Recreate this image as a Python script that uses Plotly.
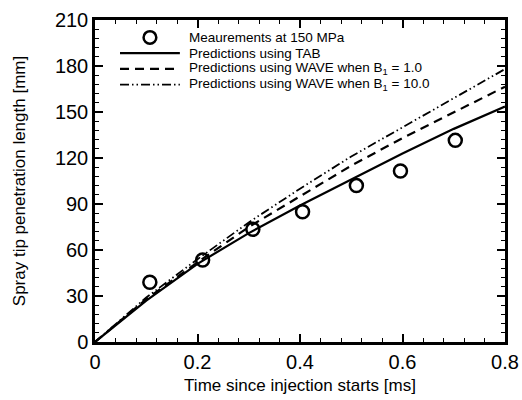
import plotly.graph_objects as go

# Data
meas_t = [0.107, 0.21, 0.308, 0.405, 0.51, 0.596, 0.703]
meas_len = [39, 53.5, 73.5, 85, 102, 111.5, 131.5]

model_t = [0.0, 0.1, 0.2, 0.3, 0.4, 0.5, 0.6, 0.7, 0.8]
tab_len = [0, 27, 51, 71, 89, 106, 123, 139, 153.5]
wave1_len = [0, 28, 52, 75, 95, 115, 133, 150, 166.5]
wave10_len = [0, 29, 54, 78, 100, 121, 140, 159, 178]

x_ticks = [0, 0.2, 0.4, 0.6, 0.8]
x_tick_labels = ["0", "0.2", "0.4", "0.6", "0.8"]
y_ticks = [0, 30, 60, 90, 120, 150, 180, 210]

legend_labels = [
    "Meaurements at 150 MPa",
    "Predictions using TAB",
    "Predictions using WAVE when B<sub>1</sub> = 1.0",
    "Predictions using WAVE when B<sub>1</sub> = 10.0",
]

FONT = "Liberation Sans, Arial, sans-serif"
SOLID = dict(color="black", width=2.2)
DASH = dict(color="black", width=2.2, dash="9px,6px")
DASHDOT = dict(color="black", width=1.8, dash="9px,3px,1.5px,3px,1.5px,3px")

fig = go.Figure()
fig.add_trace(go.Scatter(
    x=meas_t, y=meas_len, mode="markers", name=legend_labels[0],
    marker=dict(symbol="circle-open", size=13, color="black", line=dict(width=2.5, color="black")),
))
fig.add_trace(go.Scatter(x=model_t, y=tab_len, mode="lines", name=legend_labels[1], line=SOLID))
fig.add_trace(go.Scatter(x=model_t, y=wave1_len, mode="lines", name=legend_labels[2], line=DASH))
fig.add_trace(go.Scatter(x=model_t, y=wave10_len, mode="lines", name=legend_labels[3], line=DASHDOT))

# Compact legend drawn in paper coordinates (keys + real text)
row_y = [0.9457, 0.8969, 0.8481, 0.7994]
key_x0, key_x1, text_x = 0.061, 0.207, 0.225
shapes = [
    dict(type="circle", xref="paper", yref="paper",
         x0=(key_x0 + key_x1) / 2 - 0.0155, x1=(key_x0 + key_x1) / 2 + 0.0155,
         y0=row_y[0] - 0.0197, y1=row_y[0] + 0.0197,
         line=dict(color="black", width=2.5)),
]
for yy, st in zip(row_y[1:], [SOLID, DASH, DASHDOT]):
    shapes.append(dict(type="line", xref="paper", yref="paper",
                       x0=key_x0, x1=key_x1, y0=yy, y1=yy, line=st))
annotations = [
    dict(text=lab, xref="paper", yref="paper", x=text_x, y=yy, xanchor="left", yanchor="middle",
         showarrow=False, font=dict(family=FONT, size=13.5, color="black"))
    for lab, yy in zip(legend_labels, row_y)
]

axis_common = dict(
    showgrid=False, zeroline=False, showline=True, linecolor="black", linewidth=2.5,
    mirror="ticks", ticks="inside", ticklen=8, tickwidth=2, tickcolor="black",
    tickfont=dict(family=FONT, size=20, color="black"), automargin=False,
)

fig.update_xaxes(
    range=[0, 0.8], tickvals=x_ticks, ticktext=x_tick_labels,
    minor=dict(dtick=0.04, ticks="inside", ticklen=4, tickwidth=1, tickcolor="black"),
    title=dict(text="Time since injection starts [ms]", font=dict(family=FONT, size=17, color="black"), standoff=8),
    **axis_common,
)
fig.update_yaxes(
    range=[0, 210], tickvals=y_ticks,
    minor=dict(dtick=6, ticks="inside", ticklen=4, tickwidth=1, tickcolor="black"),
    title=dict(text="Spray tip penetration length [mm]", font=dict(family=FONT, size=17, color="black"), standoff=25),
    **axis_common,
)

fig.update_layout(
    width=522, height=400,
    margin=dict(l=95, r=17, t=20, b=58),
    paper_bgcolor="white", plot_bgcolor="white",
    font=dict(family=FONT, color="black"),
    showlegend=False,
    shapes=shapes,
    annotations=annotations,
)

fig.write_html(
    "out.html",
    config={"displayModeBar": False},
    post_script="document.body.style.margin='0';document.body.style.overflow='hidden';",
)
